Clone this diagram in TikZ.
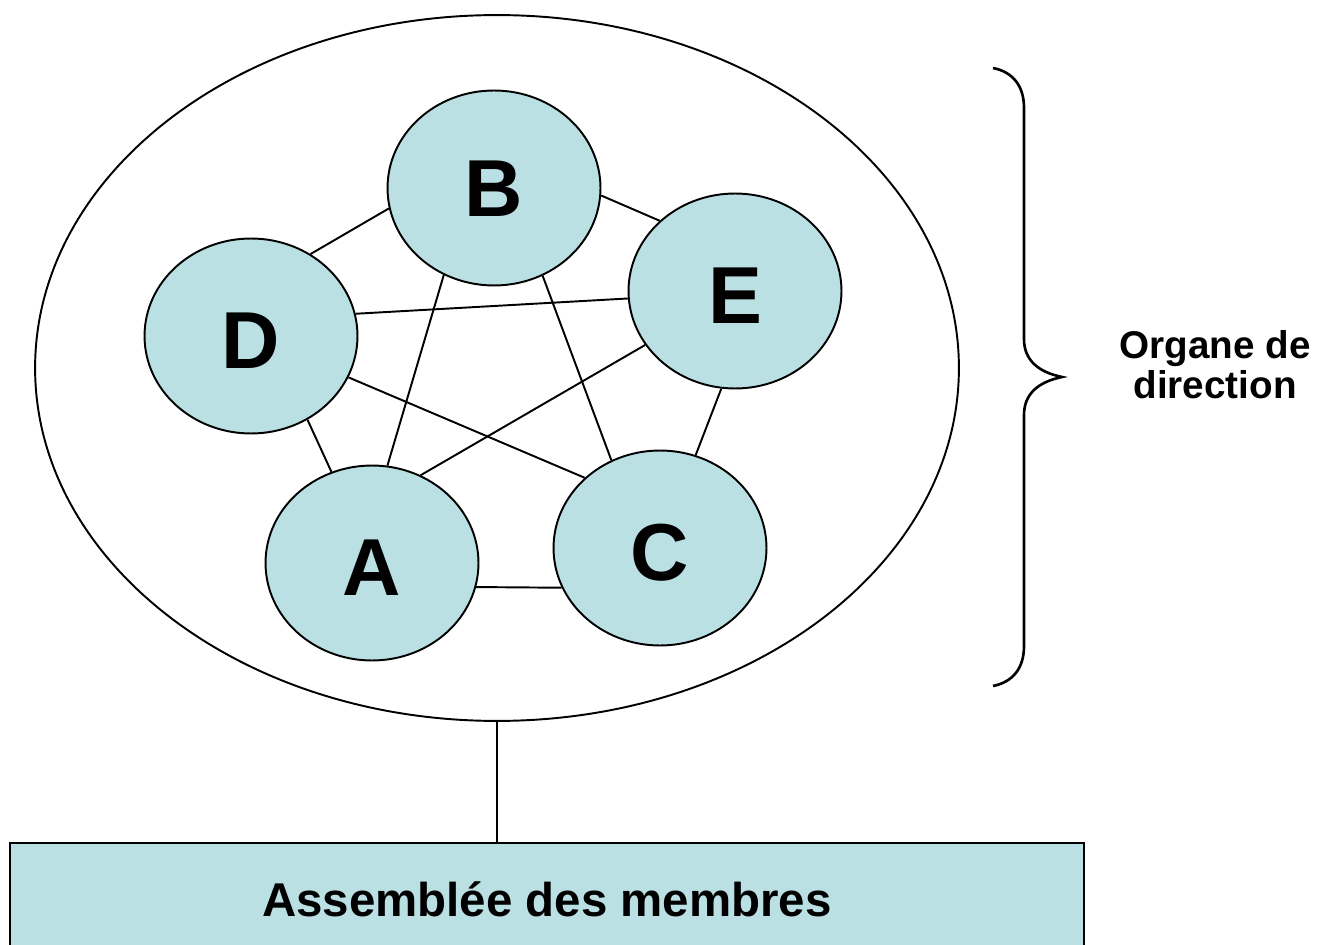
\documentclass[tikz,border=0pt]{standalone}
\usepackage{fontspec}
\setmainfont{Liberation Sans}
\usetikzlibrary{shapes.geometric}
\definecolor{memberblue}{RGB}{187,224,227}

\begin{document}
\begin{tikzpicture}[x=0.02cm,y=-0.02cm,
    member/.style={ellipse,draw,line width=1.1pt,fill=memberblue,inner sep=0pt,
      minimum width=4.26cm,minimum height=3.9cm,
      font=\fontsize{46}{46}\selectfont\bfseries,text height=37pt,text depth=0pt},
    link/.style={line width=1.1pt}]
    \useasboundingbox (0,0) rectangle (1324,945);
    \clip (0,0) rectangle (1324,945);
    \node[ellipse,draw,line width=1.1pt,inner sep=0pt,minimum width=18.48cm,minimum height=14.12cm] (board) at (497,368) {};
    \node[member,text height=33pt] (B) at (494,188) {B};
    \node[member] (E) at (735,291) {E};
    \node[member] (D) at (251,336) {D};
    \node[member] (A) at (372,563) {A};
    \node[member] (C) at (660,548) {C};
    \draw[link] (B.191) -- (D.54);
    \draw[link] (B.356) -- (E.137);
    \draw[link] (B.240) -- (A.81);
    \draw[link] (B.299) -- (C.119);
    \draw[link] (D.12) -- (E.184);
    \draw[link] (D.304) -- (A.114);
    \draw[link] (D.337) -- (C.137);
    \draw[link] (E.211) -- (A.61);
    \draw[link] (E.262) -- (C.69);
    \draw[link] (A.347) -- (C.202);
    % assemblee
    \node[draw,line width=1.1pt,fill=memberblue,minimum width=21.48cm,minimum height=2.24cm,
      font=\fontsize{27}{27}\selectfont\bfseries] (assembly) at (547,899) {Assemblée des membres};
    \draw[link] (board.south) -- (board.south |- assembly.north);
    % accolade
    \draw[line width=1.5pt] (993,68) .. controls (1013,72) and (1024,86) .. (1024,108) -- (1024,339)
      .. controls (1024,360) and (1038,372) .. (1062,377)
      .. controls (1038,382) and (1024,394) .. (1024,415) -- (1024,646)
      .. controls (1024,668) and (1013,682) .. (993,686);
    \node[align=center,font=\fontsize{22}{22.8}\selectfont\bfseries] (organe) at (1215,365) {Organe de\\direction};
\end{tikzpicture}
\end{document}
